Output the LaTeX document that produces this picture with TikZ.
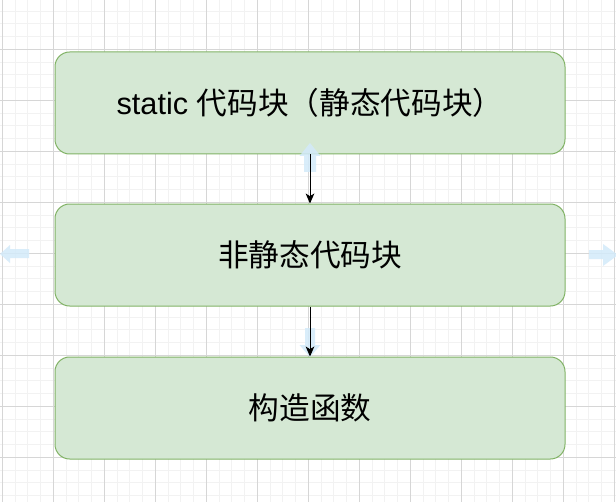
\documentclass[tikz,border=0pt]{standalone}
\usepackage{fontspec}
\setmainfont{Liberation Sans}
\newfontfamily\cjk{Noto Sans CJK SC}
\usetikzlibrary{arrows.meta}
\definecolor{boxfill}{HTML}{D5E8D4}
\definecolor{boxline}{HTML}{82B366}
\definecolor{gridminor}{HTML}{F2F2F2}
\definecolor{gridmajor}{HTML}{D6D6D6}
\definecolor{hintblue}{HTML}{D3EAFA}

\begin{document}
\begin{tikzpicture}[
  x=0.75pt, y=-0.75pt,
  stage/.style={rectangle, rounded corners=11pt, draw=boxline, fill=boxfill,
    line width=0.75pt, minimum width=382.5pt, minimum height=76.5pt,
    inner sep=0pt, font=\fontsize{23pt}{28pt}\selectfont},
  flow/.style={-{Stealth[length=7.5pt, width=6.5pt, inset=2pt]}, line width=0.75pt, black},
  hint/.style={fill=hintblue, draw=none, fill opacity=0.85},
  minor line/.style={gridminor, line width=0.75pt},
  major line/.style={gridmajor, line width=0.75pt}
]
  % Fix the page size
  \useasboundingbox (0,0) rectangle (616,502);
  \fill[white] (0,0) rectangle (616,502);

  % Draw the background grid (minor lines first)
  \foreach \i in {0,...,48}
    \draw[minor line] (2.3+12.75*\i,0) -- (2.3+12.75*\i,502);
  \foreach \j in {1,...,39}
    \draw[minor line] (0,-1.7+12.75*\j) -- (616,-1.7+12.75*\j);
  \foreach \i in {0,...,12}
    \draw[major line] (2.3+51*\i,0) -- (2.3+51*\i,502);
  \foreach \j in {1,...,9}
    \draw[major line] (0,-1.7+51*\j) -- (616,-1.7+51*\j);

  % The three stages
  \node[stage] (static) at (310,103) {static {\cjk 代码块（静态代码块）}};
  \node[stage] (nonstatic) at (310,255) {\cjk 非静态代码块};
  \node[stage] (ctor) at (310,408) {\cjk 构造函数};

  % Hover hint arrows round the middle box
  \fill[hint] (310,143) -- (320.5,156) -- (316,156) -- (316,172)
    -- (304,172) -- (304,156) -- (299.5,156) -- cycle;
  \fill[hint] (310,357) -- (320.5,345) -- (315,345) -- (315,328)
    -- (305,328) -- (305,345) -- (299.5,345) -- cycle;
  \fill[hint] (0,254) -- (10,245) -- (10,249) -- (29,249)
    -- (29,258) -- (10,258) -- (10,263) -- cycle;
  \fill[hint] (618,255) -- (603,244) -- (603,250) -- (589,250)
    -- (589,259) -- (603,259) -- (603,266) -- cycle;

  % Order of execution
  \draw[flow] (static) -- (nonstatic);
  \draw[flow] (nonstatic) -- (ctor);

\end{tikzpicture}
\end{document}
